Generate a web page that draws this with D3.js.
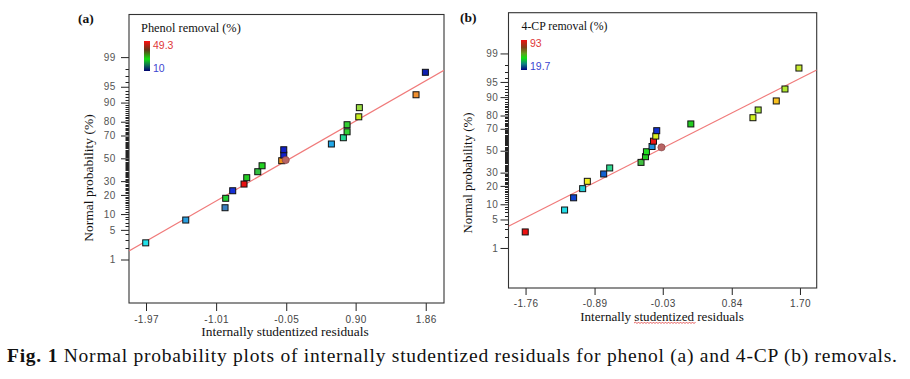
<!DOCTYPE html>
<html>
<head>
<meta charset="utf-8">
<script src="https://cdn.jsdelivr.net/npm/d3@7"></script>
<style>
  html, body { margin: 0; padding: 0; background: #fff; }
  svg { display: block; }
</style>
</head>
<body>
<svg id="chart" width="910" height="379"></svg>
<script>
// ---------------- DATA ----------------
const yMajorTicks = [1, 5, 10, 20, 30, 50, 70, 80, 90, 95, 99];

// Panel (a): phenol removal
const phenolXTicks = [-1.97, -1.01, -0.05, 0.90, 1.86];
const phenolXTickLabels = ["-1.97", "-1.01", "-0.05", "0.90", "1.86"];
const phenolResiduals = [-1.974, -1.426, -0.888, -0.879, -0.783, -0.628, -0.591, -0.440, -0.381, -0.112,
                         -0.084, -0.084, 0.568, 0.732, 0.783, 0.783, 0.943, 0.951, 1.727, 1.855];
const phenolProb = [2.6, 7.8, 12.8, 17.9, 22.8, 27.7, 32.8, 37.9, 43.2, 47.8,
                    53.0, 57.8, 62.9, 68.2, 72.9, 78.0, 83.0, 87.8, 92.8, 97.6];
const phenolColors = ["#22e0e8", "#2a9ee0", "#3c80c0", "#22cc33", "#1530d8", "#e81010", "#22cc22", "#30c040", "#22d022", "#f09018",
                      "#1020c8", "#1020c8", "#22a8e8", "#22d890", "#33d033", "#33d033", "#c8ee20", "#99dd44", "#f09030", "#1020b0"];
const phenolCenter = [-0.057, 48.4];
const phenolLine = [0.963, -0.009];          // slope, intercept (z = slope*x + intercept)
const phenolLegend = ["Phenol removal (%)", "49.3", "10"];

// Panel (b): 4-CP removal
const cpXTicks = [-1.76, -0.89, -0.03, 0.84, 1.70];
const cpXTickLabels = ["-1.76", "-0.89", "-0.03", "0.84", "1.70"];
const cpResiduals = [-1.764, -1.268, -1.154, -1.040, -0.981, -0.775, -0.699, -0.304, -0.248, -0.236,
                     -0.165, -0.147, -0.118, -0.106, 0.324, 1.107, 1.173, 1.401, 1.511, 1.687];
const cpProb = [2.6, 7.8, 13.0, 18.2, 23.2, 28.9, 34.0, 39.0, 44.3, 49.0,
                54.0, 59.0, 63.7, 68.4, 73.9, 78.5, 83.5, 88.3, 93.0, 97.6];
const cpColors = ["#ee1111", "#22dde8", "#1044d0", "#22d0d8", "#f0f020", "#1060d0", "#30d890", "#40c040", "#22cc22", "#22dd22",
                  "#2090e0", "#e81818", "#d8ee20", "#1030d0", "#22cc22", "#d0f020", "#a8e830", "#f8c020", "#b0e830", "#c8ea30"];
const cpCenter = [-0.046, 53.2];
const cpLine = [0.962, 0.094];
const cpLegend = ["4-CP removal (%)", "93", "19.7"];

const captionBold = "Fig. 1";
const captionText = " Normal probability plots of internally studentized residuals for phenol (a) and 4-CP (b) removals.";

// ---------------- HELPERS ----------------
// inverse standard normal CDF (Acklam)
function probit(p) {
  const a = [-3.969683028665376e+01, 2.209460984245205e+02, -2.759285104469687e+02, 1.383577518672690e+02, -3.066479806614716e+01, 2.506628277459239e+00];
  const b = [-5.447609879822406e+01, 1.615858368580409e+02, -1.556989798598866e+02, 6.680131188771972e+01, -1.328068155288572e+01];
  const c = [-7.784894002430293e-03, -3.223964580411365e-01, -2.400758277161838e+00, -2.549732539343734e+00, 4.374664141464968e+00, 2.938163982698783e+00];
  const d = [7.784695709041462e-03, 3.224671290700398e-01, 2.445134137142996e+00, 3.754408661907416e+00];
  const pl = 0.02425, ph = 1 - pl;
  let q, r;
  if (p < pl) {
    q = Math.sqrt(-2 * Math.log(p));
    return (((((c[0]*q+c[1])*q+c[2])*q+c[3])*q+c[4])*q+c[5]) / ((((d[0]*q+d[1])*q+d[2])*q+d[3])*q+1);
  } else if (p <= ph) {
    q = p - 0.5; r = q * q;
    return (((((a[0]*r+a[1])*r+a[2])*r+a[3])*r+a[4])*r+a[5])*q / (((((b[0]*r+b[1])*r+b[2])*r+b[3])*r+b[4])*r+1);
  } else {
    q = Math.sqrt(-2 * Math.log(1 - p));
    return -(((((c[0]*q+c[1])*q+c[2])*q+c[3])*q+c[4])*q+c[5]) / ((((d[0]*q+d[1])*q+d[2])*q+d[3])*q+1);
  }
}

const svg = d3.select("#chart");
const defs = svg.append("defs");

function gradient(id, stops) {
  const g = defs.append("linearGradient").attr("id", id)
    .attr("x1", 0).attr("y1", 0).attr("x2", 0).attr("y2", 1);
  stops.forEach(s => g.append("stop").attr("offset", s[0]).attr("stop-color", s[1]));
}
gradient("gradA", [[0, "#ff1010"], [0.3, "#603818"], [0.6, "#10e010"], [0.8, "#107050"], [1, "#000070"]]);
gradient("gradB", [[0, "#ee1010"], [0.25, "#804018"], [0.45, "#60a020"], [0.6, "#10e010"], [0.8, "#108080"], [1, "#000080"]]);

const serif = "'Liberation Serif', 'Times New Roman', Times, serif";
const sans = "'Liberation Sans', Arial, sans-serif";

function drawPanel(o) {
  const x = d3.scaleLinear().domain(o.xDomain).range([o.left, o.right]);
  const y = d3.scaleLinear().domain(o.zDomain).range([o.bottom, o.top]);
  const g = svg.append("g");

  // minor y ticks (every integer percent)
  g.append("g").selectAll("line")
    .data(d3.range(2, 99).filter(v => !yMajorTicks.includes(v)))
    .join("line")
    .attr("x1", o.left - 3.5).attr("x2", o.left)
    .attr("y1", d => Math.round(y(probit(d / 100))) + 0.5)
    .attr("y2", d => Math.round(y(probit(d / 100))) + 0.5)
    .attr("stroke", "#222").attr("stroke-width", 1);

  // y axis major
  const yAxis = d3.axisLeft(y)
    .tickValues(yMajorTicks.map(v => probit(v / 100)))
    .tickFormat((d, i) => String(yMajorTicks[i]))
    .tickSize(8).tickPadding(o.yPad);
  const ya = g.append("g").attr("transform", `translate(${o.left},0)`).call(yAxis);
  ya.select(".domain").remove();
  ya.selectAll(".tick line").attr("stroke", "#222");
  ya.selectAll(".tick text").attr("font-family", sans)
    .attr("font-size", 10).attr("fill", "#555").attr("letter-spacing", 0.6);

  // x axis
  const xAxis = d3.axisBottom(x).tickValues(o.xTicks)
    .tickFormat((d, i) => o.xTickLabels[i]).tickSize(o.xTickSize).tickPadding(o.xPad);
  const xa = g.append("g").attr("transform", `translate(0,${o.bottom})`).call(xAxis);
  xa.select(".domain").remove();
  xa.selectAll(".tick line").attr("stroke", "#222");
  xa.selectAll(".tick text").attr("font-family", sans)
    .attr("font-size", 10).attr("fill", "#444").attr("letter-spacing", 0.4);

  // frame
  g.append("rect").attr("x", o.left).attr("y", o.top)
    .attr("width", o.right - o.left).attr("height", o.bottom - o.top)
    .attr("fill", "none").attr("stroke", "#333").attr("stroke-width", 1.1);

  // clip
  const cid = "clip" + o.id;
  defs.append("clipPath").attr("id", cid).append("rect")
    .attr("x", o.left).attr("y", o.top).attr("width", o.right - o.left).attr("height", o.bottom - o.top);

  // reference line
  const lineGen = d3.line().x(d => x(d)).y(d => y(o.line[0] * d + o.line[1]));
  g.append("path").datum(o.xDomain).attr("d", lineGen)
    .attr("clip-path", `url(#${cid})`)
    .attr("fill", "none").attr("stroke", "#f07a7a").attr("stroke-width", 1.2);

  // points
  const pts = o.res.map((r, i) => ({ r, p: o.prob[i], c: o.colors[i] }));
  const s = 6;
  g.append("g").selectAll("rect").data(pts).join("rect")
    .attr("x", d => x(d.r) - s / 2).attr("y", d => y(probit(d.p / 100)) - s / 2)
    .attr("width", s).attr("height", s)
    .attr("fill", d => d.c).attr("stroke", "#111").attr("stroke-width", 1);

  // center point marker
  g.append("circle").attr("cx", x(o.center[0])).attr("cy", y(probit(o.center[1] / 100)))
    .attr("r", 3.6).attr("fill", "#b86464").attr("stroke", "#7a3a3a").attr("stroke-width", 0.6);

  // panel label
  g.append("text").attr("x", o.labelX).attr("y", o.labelY).text(o.label)
    .attr("font-family", serif)
    .attr("font-weight", "bold").attr("font-size", 13.5).attr("fill", "#111");

  // legend
  g.append("text").attr("x", o.legX).attr("y", o.legTitleY).text(o.legend[0])
    .attr("font-family", serif)
    .attr("font-size", o.legFont).attr("fill", "#111");
  g.append("rect").attr("x", o.barX).attr("y", o.barTop).attr("width", 6).attr("height", 30)
    .attr("fill", `url(#${o.grad})`);
  g.append("text").attr("x", o.barX + 9).attr("y", o.hiY).text(o.legend[1])
    .attr("font-family", sans).attr("font-size", 10.5).attr("fill", "#e03838");
  g.append("text").attr("x", o.barX + 9).attr("y", o.loY).text(o.legend[2])
    .attr("font-family", sans).attr("font-size", 10.5).attr("fill", "#3c46d0");

  // axis titles
  g.append("text").attr("transform", `translate(${o.yTitleX},${o.yTitleY}) rotate(-90)`)
    .attr("text-anchor", "middle").text("Normal probability (%)")
    .attr("font-family", serif)
    .attr("font-size", o.titleFont).attr("fill", "#111");
  g.append("text").attr("x", o.xTitleX).attr("y", o.xTitleY)
    .attr("text-anchor", "middle").text("Internally studentized residuals")
    .attr("font-family", serif)
    .attr("font-size", o.xTitleFont).attr("fill", "#111");
  return { g, x, y };
}

drawPanel({
  id: "A", left: 129, right: 444, top: 14.5, bottom: 303,
  xDomain: [-2.203, 2.11], zDomain: [-3.326, 3.306],
  xTicks: phenolXTicks, xTickLabels: phenolXTickLabels, xTickSize: 8, xPad: 5, yPad: 5,
  res: phenolResiduals, prob: phenolProb, colors: phenolColors, center: phenolCenter, line: phenolLine,
  label: "(a)", labelX: 78, labelY: 23,
  legend: phenolLegend, legX: 141, legTitleY: 32, legFont: 12.4, barX: 144, barTop: 41, hiY: 49, loY: 71.5, grad: "gradA",
  yTitleX: 93, yTitleY: 178, titleFont: 13.5,
  xTitleX: 285, xTitleY: 336, xTitleFont: 13.4
});

drawPanel({
  id: "B", left: 508.5, right: 816.7, top: 12.7, bottom: 288,
  xDomain: [-1.975, 1.911], zDomain: [-3.284, 3.301],
  xTicks: cpXTicks, xTickLabels: cpXTickLabels, xTickSize: 7, xPad: 5, yPad: 2,
  res: cpResiduals, prob: cpProb, colors: cpColors, center: cpCenter, line: cpLine,
  label: "(b)", labelX: 460, labelY: 22,
  legend: cpLegend, legX: 521.5, legTitleY: 30, legFont: 11.8, barX: 521, barTop: 40, hiY: 46.5, loY: 70, grad: "gradB",
  yTitleX: 472, yTitleY: 173, titleFont: 12.8,
  xTitleX: 662, xTitleY: 321, xTitleFont: 13.1
});

// spell-check style wavy underline under "studentized" in panel (b)
(function () {
  const p = d3.path();
  const x0 = 634, x1 = 696, yb = 323;
  p.moveTo(x0, yb);
  let up = true;
  for (let xx = x0 + 1.5; xx <= x1; xx += 1.5) { p.lineTo(xx, yb + (up ? -1 : 0.6)); up = !up; }
  svg.append("path").attr("d", p.toString()).attr("fill", "none")
    .attr("stroke", "#e04040").attr("stroke-width", 0.8);
})();

// caption
const cap = svg.append("text").attr("x", 7).attr("y", 362)
  .attr("font-family", serif)
  .attr("font-size", 19.5).attr("fill", "#111")
  .attr("textLength", 890).attr("lengthAdjust", "spacing");
cap.append("tspan").attr("font-weight", "bold").text(captionBold);
cap.append("tspan").text(captionText);
</script>
</body>
</html>
